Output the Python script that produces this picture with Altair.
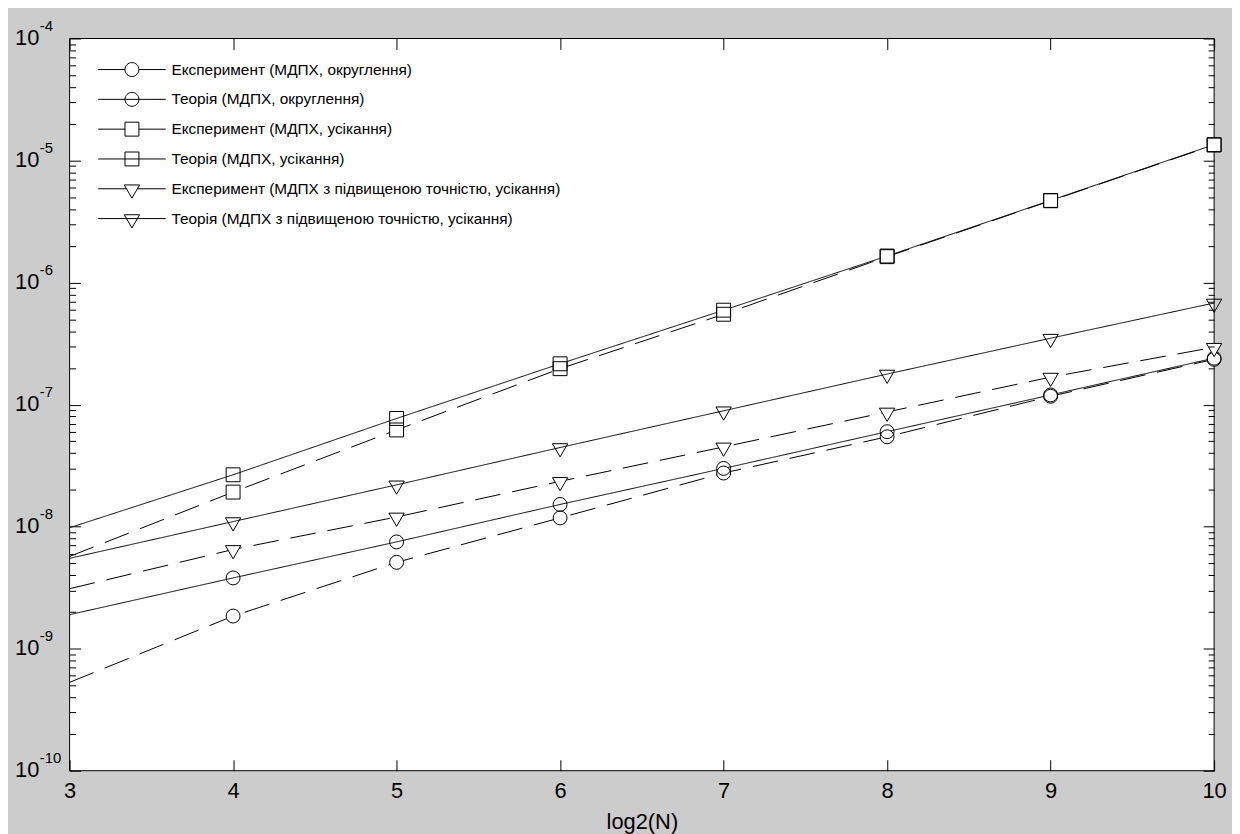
import altair as alt
import pandas as pd

# ---- data ----
x_vals = [3, 4, 5, 6, 7, 8, 9, 10]
x_ticks = [3, 4, 5, 6, 7, 8, 9, 10]

names = [
    "Експеримент (МДПХ, округлення)",
    "Теорія (МДПХ, округлення)",
    "Експеримент (МДПХ, усікання)",
    "Теорія (МДПХ, усікання)",
    "Експеримент (МДПХ з підвищеною точністю, усікання)",
    "Теорія (МДПХ з підвищеною точністю, усікання)",
]
kinds = ["exp", "theory", "exp", "theory", "exp", "theory"]

exp_round = [5.3e-10, 1.85e-9, 5.1e-9, 1.18e-8, 2.75e-8, 5.45e-8, 1.17e-7, 2.35e-7]
theory_round = [1.9e-9, 3.8e-9, 7.5e-9, 1.52e-8, 3.0e-8, 6.0e-8, 1.2e-7, 2.4e-7]
exp_trunc = [5.7e-9, 1.92e-8, 6.2e-8, 1.97e-7, 5.5e-7, 1.63e-6, 4.68e-6, 1.34e-5]
theory_trunc = [9.8e-9, 2.66e-8, 7.7e-8, 2.16e-7, 5.94e-7, 1.65e-6, 4.71e-6, 1.35e-5]
exp_enh = [3.1e-9, 6.5e-9, 1.2e-8, 2.35e-8, 4.5e-8, 8.7e-8, 1.68e-7, 2.95e-7]
theory_enh = [5.5e-9, 1.1e-8, 2.2e-8, 4.45e-8, 8.9e-8, 1.78e-7, 3.5e-7, 6.8e-7]
series_values = [exp_round, theory_round, exp_trunc, theory_trunc, exp_enh, theory_enh]

x_range = [3, 10]
y_range = [1e-10, 1e-4]
decades = [1e-10, 1e-9, 1e-8, 1e-7, 1e-6, 1e-5, 1e-4]
minor_ticks = [k * d for d in decades[:-1] for k in range(2, 10)]

# ---- marker / legend symbol shapes ----
TRI = "M-1.1,-0.55L1.1,-0.55L0,1.35Z"
marker_shapes = ["circle", "circle", "square", "square", TRI, TRI]

BOX = "M0,-2.47M0,2.47"
CIRC = "M-1.4,0A1.4,1.4,0,1,0,1.4,0A1.4,1.4,0,1,0,-1.4,0"
SQR = "M-1.4,-1.4L1.4,-1.4L1.4,1.4L-1.4,1.4Z"
TRIL = "M-1.54,-0.77L1.54,-0.77L0,1.89Z"
legend_paths = [
    "M-6.8,0L-1.4,0M1.4,0L6.8,0" + CIRC + BOX,
    "M-6.8,0L6.8,0" + CIRC + BOX,
    "M-6.8,0L-1.4,0M1.4,0L6.8,0" + SQR + BOX,
    "M-6.8,0L6.8,0" + SQR + BOX,
    "M-6.8,0L-1.095,0M1.095,0L6.8,0" + TRIL + BOX,
    "M-6.8,0L6.8,0" + TRIL + BOX,
]

rows = []
for name, kind, vals in zip(names, kinds, series_values):
    for xv, v in zip(x_vals, vals):
        rows.append({"series": name, "kind": kind, "x": xv, "v": v})
df = pd.DataFrame(rows)
area_df = pd.DataFrame({"ax": x_range, "ay": [y_range[0], y_range[0]],
                        "ay2": [y_range[1], y_range[1]]})

FONT = "Liberation Sans, Arial, sans-serif"

x_scale = alt.Scale(domain=x_range, nice=False, zero=False)
y_scale = alt.Scale(type="log", domain=y_range, nice=False)

common = dict(domain=False, grid=False, tickColor="black", tickWidth=1, zindex=1)

ax_bottom = alt.Axis(
    orient="bottom", values=x_ticks, format="d", offset=-11, tickSize=11,
    labelFont=FONT, labelFontSize=22, labelColor="black", labelPadding=10,
    labelFlush=False, labelOverlap=False,
    title="log2(N)", titleFont=FONT, titleFontSize=22, titleFontWeight="normal",
    titleColor="black", titlePadding=10, **common)
ax_top = alt.Axis(orient="top", values=x_ticks, offset=-11, tickSize=11,
                  labels=False, title=None, **common)
ax_left = alt.Axis(
    orient="left", values=decades, offset=-11, tickSize=11, labelExpr="'10'",
    labelFont=FONT, labelFontSize=22, labelColor="black", labelPadding=31,
    labelOffset=-1, labelFlush=False, labelOverlap=False, title=None, **common)
ax_left_minor = alt.Axis(orient="left", values=minor_ticks, offset=-6, tickSize=6,
                         labels=False, title=None, **common)
ax_left_exp = alt.Axis(
    orient="left", values=decades, ticks=False, tickSize=0,
    labelExpr="'-' + round(-log(datum.value)/LN10)", labelAlign="left",
    labelFont=FONT, labelFontSize=15, labelColor="black", labelPadding=30.5,
    labelOffset=-13, labelFlush=False, labelOverlap=False, title=None,
    domain=False, grid=False, zindex=1)
ax_right = alt.Axis(orient="right", values=decades, offset=-11, tickSize=11,
                    labels=False, title=None, **common)
ax_right_minor = alt.Axis(orient="right", values=minor_ticks, offset=-6, tickSize=6,
                          labels=False, title=None, **common)

# white plot area with a black box, spanning the axis domains
frame = alt.Chart(area_df).mark_area(
    fill="#ffffff", opacity=1, stroke="#000000", strokeWidth=1
).encode(
    x=alt.X("ax:Q", scale=x_scale, axis=None),
    y=alt.Y("ay:Q", scale=y_scale, axis=None),
    y2="ay2:Q",
)

base = alt.Chart(df)

lines = base.mark_line(color="black", strokeWidth=1).encode(
    x=alt.X("x:Q", scale=x_scale, axis=ax_bottom),
    y=alt.Y("v:Q", scale=y_scale, axis=ax_left),
    detail="series:N",
    strokeDash=alt.StrokeDash(
        "kind:N",
        scale=alt.Scale(domain=["exp", "theory"], range=[[26, 12], [1, 0]]),
        legend=None),
)

points = base.transform_filter("datum.x > 3").mark_point(
    size=196, strokeWidth=1, stroke="black", opacity=1, filled=True).encode(
    x=alt.X("x:Q", scale=x_scale, axis=ax_top),
    y=alt.Y("v:Q", scale=y_scale, axis=ax_right),
    shape=alt.Shape("series:N", scale=alt.Scale(domain=names, range=marker_shapes),
                    legend=None),
    fill=alt.Fill("kind:N",
                  scale=alt.Scale(domain=["exp", "theory"], range=["white", "transparent"]),
                  legend=None),
)

empty = base.transform_filter("false")
minor_left = empty.mark_point().encode(y=alt.Y("v:Q", scale=y_scale, axis=ax_left_minor))
minor_right = empty.mark_point().encode(y=alt.Y("v:Q", scale=y_scale, axis=ax_right_minor))
exp_labels = empty.mark_point().encode(y=alt.Y("v:Q", scale=y_scale, axis=ax_left_exp))

legend_layer = empty.mark_point(filled=False, color="black", size=100, strokeWidth=1).encode(
    shape=alt.Shape(
        "series:N",
        scale=alt.Scale(domain=names, range=legend_paths),
        legend=alt.Legend(
            orient="none", legendX=55, legendY=23.5, title=None, padding=0,
            labelFont=FONT, labelFontSize=15.5, labelColor="black", labelOffset=32,
            labelLimit=0, rowPadding=0, symbolStrokeColor="black",
            symbolFillColor="transparent", symbolStrokeWidth=1, symbolSize=100,
            symbolOpacity=1, zindex=2),
    )
)

chart = (
    alt.layer(frame, lines, points, minor_left, minor_right, exp_labels, legend_layer)
    .resolve_axis(x="independent", y="independent")
    .resolve_scale(shape="independent")
    .properties(
        width=1152, height=737,
        autosize=alt.AutoSizeParams(type="none"),
        padding={"left": 62, "top": 28, "right": 18, "bottom": 61},
    )
    .configure(background="#cccccc")
    .configure_view(stroke=None)
)

chart.save("out.html", embed_options={"renderer": "svg", "actions": False})
